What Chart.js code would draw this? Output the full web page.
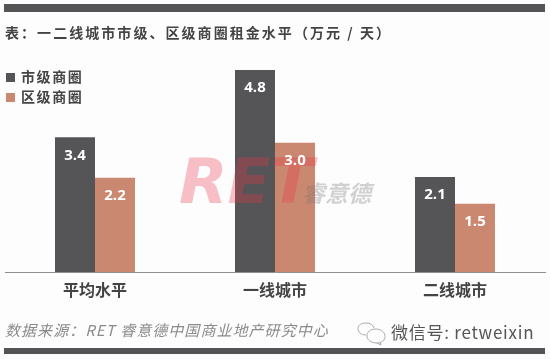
<!DOCTYPE html>
<html><head>
<meta charset="UTF-8">
<title>一二线城市市级、区级商圈租金水平</title>
<script src="https://cdn.jsdelivr.net/npm/chart.js"></script>
<style>
body {
  margin: 0;
  background: #fdfdfd;
  font-family: "Noto Sans CJK SC", sans-serif;
}
#wrap { position: relative; width: 550px; height: 359px; overflow: hidden; }
#wrap > * { position: absolute; white-space: nowrap; }
.band { left: 4px; width: 541px; background: #545456; }
#title { left: 5px; top: 22px; font-size: 14px; line-height: 20px; font-weight: 700; letter-spacing: 2.05px; color: #444; }
.legend-item { left: 6px; font-size: 14px; line-height: 20px; font-weight: 700; letter-spacing: 1.6px; color: #444; }
.legend-item i { display: inline-block; width: 9px; height: 9px; margin-right: 6px; vertical-align: 0; }
#source { left: 5px; top: 320px; font-size: 15px; line-height: 20px; font-style: italic; letter-spacing: 1.05px; color: #8a8a8a; }
#wechat { left: 391px; top: 320px; font-size: 17px; line-height: 24px; color: #555; letter-spacing: .75px; }
#icon { left: 357px; top: 322px; }
</style>
</head>
<body>
<div id="wrap">
  <canvas id="chart" width="550" height="359" style="left:0;top:0"></canvas>
  <div class="band" style="top:4px;height:8px"></div>
  <div class="band" style="top:348px;height:6px"></div>
  <div id="title">表：一二线城市市级、区级商圈租金水平（万元 / 天）</div>
  <div class="legend-item" id="legend0" style="top:66px"></div>
  <div class="legend-item" id="legend1" style="top:86px"></div>
  <div id="source">数据来源：RET 睿意德中国商业地产研究中心</div>
  <svg id="icon" width="30" height="24" viewBox="0 0 30 24" fill="none" stroke="#aaa" stroke-width="1">
    <path d="M9 13c-5 0-8-3-8-6.500S4.500 1 9 1s7 2 8 5"/>
    <path d="M20 21c5 0 8-3 8-6.500S25 7 19 7s-9 3-9 7 4 7 10 7l4 2-1-3"/>
  </svg>
  <div id="wechat">微信号: retweixin</div>
</div>

<script>
const categories = ['平均水平', '一线城市', '二线城市'];
const seriesNames = ['市级商圈', '区级商圈'];
// bar heights, the printed numbers are kept apart
const cityBars = [3.2, 4.8, 2.26];
const districtBars = [2.24, 3.07, 1.62];
const cityLabels = ['3.4', '4.8', '2.1'];
const districtLabels = ['2.2', '3.0', '1.5'];
const seriesColors = ['#555557', '#cb8870'];

seriesNames.forEach((name, i) => {
  const el = document.getElementById('legend' + i);
  el.innerHTML = `<i style="background:${seriesColors[i]}"></i>${name}`;
});

// watermark sits over the bars but under the value labels
const barLabels = {
  id: 'barLabels',
  afterDatasetsDraw(chart) {
    const ctx = chart.ctx;
    const printed = [cityLabels, districtLabels];
    ctx.save();
    ctx.fillStyle = 'rgba(235,50,70,.3)';
    ctx.font = 'italic 700 63px "DejaVu Sans", sans-serif';
    ctx.fillText('RET', 179, 203);
    ctx.restore();

    ctx.save();
    ctx.fillStyle = 'rgba(110,110,110,.3)';
    ctx.font = 'italic 700 23px "Noto Sans CJK SC", sans-serif';
    ctx.fillText('睿意德', 302, 202);
    ctx.restore();

    ctx.save();
    ctx.fillStyle = '#fff';
    ctx.font = '700 15px "Open Sans", sans-serif';
    ctx.textAlign = 'center';
    ctx.textBaseline = 'middle';
    chart.data.datasets.forEach((ds, i) => {
      chart.getDatasetMeta(i).data.forEach((bar, j) => {
        ctx.fillText(printed[i][j], bar.x, bar.y + 18);
      });
    });
    ctx.restore();
  }
};

new Chart(document.getElementById('chart'), {
  type: 'bar',
  data: {
    labels: categories,
    datasets: [
      { label: seriesNames[0], data: cityBars, backgroundColor: seriesColors[0] },
      { label: seriesNames[1], data: districtBars, backgroundColor: seriesColors[1] }
    ]
  },
  options: {
    responsive: false,
    animation: false,
    layout: { padding: { top: 70, left: 5, right: 5, bottom: 0 } },
    plugins: { legend: { display: false }, title: { display: false }, tooltip: { enabled: false } },
    datasets: { bar: { categoryPercentage: 80 / 180, barPercentage: 1 } },
    scales: {
      x: {
        grid: { display: false },
        border: { display: true, color: '#8f8f8f', width: 1 },
        ticks: { color: '#444', padding: 0, font: { size: 16, weight: '700', family: '"Noto Sans CJK SC"' } },
        afterFit(scale) { scale.height = 87; }
      },
      y: { display: false, min: 0, max: 4.8 }
    }
  },
  plugins: [barLabels]
});
</script>
</body></html>
